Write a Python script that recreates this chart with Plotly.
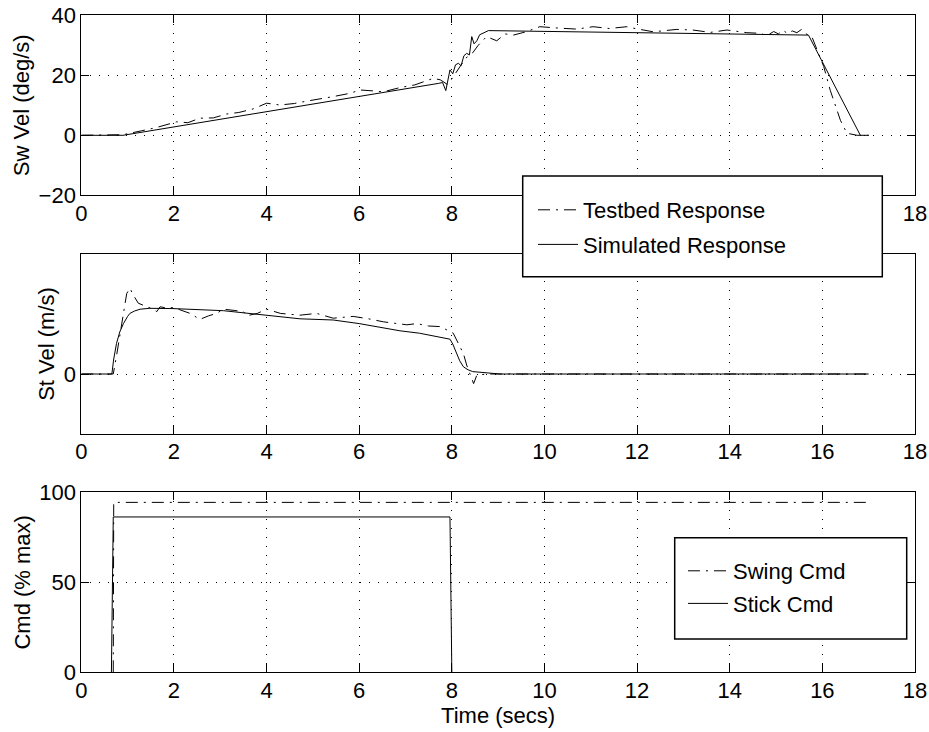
import plotly.graph_objects as go

# ---------------- data ----------------
# Top panel: swing velocity (deg/s)
sw_test_t = [0, 0.9, 1.3, 1.6, 2.06, 2.3, 2.56, 2.85, 3.14, 3.4, 3.71, 4.0, 4.29, 4.6, 4.87,
             5.15, 5.44, 5.8, 6.02, 6.3, 6.52, 6.88, 7.2, 7.6, 7.75, 7.9, 7.96, 8.05, 8.18, 8.3,
             8.45, 8.57, 8.75, 8.97, 9.15, 9.33, 9.6, 9.9, 10.34, 10.7, 11.05, 11.4, 11.78, 11.92,
             12.35, 12.6, 12.86, 13.2, 13.58, 13.94, 14.37, 14.66, 14.8, 14.95, 15.05, 15.15,
             15.25, 15.35, 15.45, 15.55, 15.65, 15.77, 16.03, 16.17, 16.39, 16.53, 16.75, 17.0]
sw_test_v = [0, 0.2, 1.5, 2.5, 4.5, 4.2, 5.7, 5.8, 7.1, 7.6, 8.8, 10.7, 10.1, 10.6, 11.4,
             12.1, 12.9, 14.0, 15.1, 14.8, 14.5, 15.9, 16.8, 19.0, 18.5, 17.0, 17.9, 20.0, 22.9, 25.7,
             27.5, 30.0, 32.9, 31.5, 33.8, 33.4, 34.5, 36.2, 35.7, 35.4, 36.2, 35.6, 36.2, 35.7,
             34.5, 35.0, 35.3, 35.1, 34.3, 35.1, 34.2, 34.0, 33.2, 34.6, 33.8, 35.0,
             33.9, 34.8, 34.2, 35.3, 33.8, 33.0, 22.9, 15.0, 5.0, 0.7, 0.0, 0.0]

sw_sim_t = [0, 0.9, 7.71, 7.80, 7.87, 7.92, 7.96, 8.02, 8.08, 8.14, 8.2, 8.26, 8.32, 8.38,
            8.43, 8.48, 8.54, 8.6, 8.79, 15.70, 16.82, 17.0]
sw_sim_v = [0, 0, 17.3, 17.6, 14.9, 19.5, 21.8, 20.5, 23.5, 24.0, 23.2, 26.5, 27.3, 26.8,
            32.9, 30.5, 31.5, 33.5, 34.9, 33.4, 0, 0]

# Middle panel: stick velocity (m/s)
st_test_t = [0, 0.69, 0.76, 0.84, 0.91, 0.98, 1.05, 1.12, 1.23, 1.41, 1.55, 1.63, 1.70, 1.85,
             2.02, 2.13, 2.35, 2.56, 2.75, 2.92, 3.07, 3.3, 3.5, 3.57, 3.8, 4.0, 4.3, 4.72, 5.08,
             5.44, 5.87, 6.2, 6.52, 7.03, 7.24, 7.5, 7.75, 8.03, 8.15, 8.25, 8.32, 8.39, 8.47,
             8.54, 8.76, 17.0]
st_test_v = [0, 0, 0.03, 0.068, 0.100, 0.134, 0.143, 0.132, 0.118, 0.113, 0.108, 0.104, 0.112,
             0.110, 0.111, 0.107, 0.101, 0.091, 0.097, 0.101, 0.108, 0.106, 0.104, 0.097, 0.101,
             0.108, 0.101, 0.098, 0.101, 0.093, 0.096, 0.092, 0.087, 0.082, 0.084, 0.080, 0.079,
             0.068, 0.050, 0.034, 0.015, 0.0, -0.016, -0.002, 0, 0]

st_sim_t = [0, 0.66, 0.7, 0.76, 0.83, 0.91, 1.0, 1.05, 1.15, 1.27, 1.48, 1.99, 3.07, 4.08,
            4.72, 5.44, 6.0, 6.88, 7.3, 7.96, 8.02, 8.1, 8.17, 8.25, 8.35, 8.45, 8.61, 8.8,
            9.04, 17.0]
st_sim_v = [0, 0, 0.025, 0.051, 0.070, 0.084, 0.096, 0.101, 0.105, 0.108, 0.1095, 0.109,
            0.1055, 0.098, 0.092, 0.090, 0.084, 0.072, 0.068, 0.058, 0.050, 0.035, 0.022,
            0.012, 0.007, 0.004, 0.003, 0.001, 0, 0]

# Bottom panel: commands (% max)
swing_t = [0.69, 0.70, 17.0]
swing_v = [0, 94.4, 94.4]
stick_t = [0.65, 0.69, 7.96, 8.0]
stick_v = [0, 86.3, 86.3, 0]

x_ticks = [0, 2, 4, 6, 8, 10, 12, 14, 16, 18]
x_labels = ["0", "2", "4", "6", "8", "10", "12", "14", "16", "18"]
# in the top panel, labels 10-16 sit under the legend box
x_labels_top = ["0", "2", "4", "6", "8", "", "", "", "", "18"]
sw_ticks = [-20, 0, 20, 40]
st_ticks = [0]
cmd_ticks = [0, 50, 100]

# ---------------- figure ----------------
W, H = 929, 732
FONT = "Liberation Sans, Arial, Helvetica, sans-serif"
FS = 22
DASHDOT = "12px,6px,2px,6px"

fig = go.Figure()

def line(t, v, xa, ya, dash, name, legend, show=True):
    fig.add_trace(go.Scatter(x=t, y=v, xaxis=xa, yaxis=ya, mode="lines",
                             line=dict(color="black", width=1, dash=dash),
                             name=name, legend=legend, showlegend=show,
                             legendgroup=name))

line(sw_test_t, sw_test_v, "x", "y", DASHDOT, "Testbed Response", "legend")
line(sw_sim_t, sw_sim_v, "x", "y", "solid", "Simulated Response", "legend")
line(st_test_t, st_test_v, "x2", "y2", DASHDOT, "Testbed Response", "legend", False)
line(st_sim_t, st_sim_v, "x2", "y2", "solid", "Simulated Response", "legend", False)
line(swing_t, swing_v, "x3", "y3", DASHDOT, "Swing Cmd", "legend2")
line(stick_t, stick_v, "x3", "y3", "solid", "Stick Cmd", "legend2")

def px_x(p):
    return p / W

def px_y(p):
    return 1 - p / H

xdom = [px_x(81.3), px_x(915)]
doms = {
    "1": [px_y(195.3), px_y(15.3)],
    "2": [px_y(434), px_y(254)],
    "3": [px_y(672.3), px_y(492.3)],
}

common_axis = dict(showline=True, linecolor="black", linewidth=1, mirror="ticks",
                   ticks="inside", ticklen=8, tickcolor="black", tickwidth=1,
                   showgrid=True, gridcolor="black", gridwidth=1, griddash="1px,8px",
                   zeroline=False, automargin=False,
                   tickfont=dict(family=FONT, size=FS, color="black"))

layout = dict(
    template="none",
    width=W, height=H, margin=dict(l=0, r=0, t=0, b=0, pad=0, autoexpand=False),
    paper_bgcolor="white", plot_bgcolor="white",
    font=dict(family=FONT, size=FS, color="black"),
)

for ax, yr, yt, title in [
        ("1", [-20, 40], sw_ticks, "Sw Vel (deg/s)"),
        ("2", [-0.1, 0.2], st_ticks, "St Vel (m/s)"),
        ("3", [0, 100], cmd_ticks, "Cmd (% max)")]:
    xk = "xaxis" if ax == "1" else f"xaxis{ax}"
    yk = "yaxis" if ax == "1" else f"yaxis{ax}"
    ya = "y" if ax == "1" else f"y{ax}"
    xa = "x" if ax == "1" else f"x{ax}"
    layout[xk] = dict(common_axis, domain=xdom, range=[0, 18], tickvals=x_ticks,
                      ticktext=x_labels_top if ax == "1" else x_labels,
                      anchor=ya, ticklabelstandoff=-2)
    layout[yk] = dict(common_axis, domain=doms[ax], range=yr, tickvals=yt, anchor=xa,
                      ticklabelstandoff=0,
                      title=dict(text=title, standoff=2,
                                 font=dict(family=FONT, size=FS, color="black")))
layout["xaxis3"]["title"] = dict(text="Time (secs)", standoff=0,
                                 font=dict(family=FONT, size=FS, color="black"))

# legend boxes
layout["shapes"] = [
    dict(type="rect", xref="paper", yref="paper", layer="above",
         x0=px_x(522.7), x1=px_x(882.3), y0=px_y(276.7), y1=px_y(176),
         line=dict(color="black", width=1.5), fillcolor="white"),
    dict(type="rect", xref="paper", yref="paper", layer="above",
         x0=px_x(674.7), x1=px_x(906.7), y0=px_y(639), y1=px_y(537.7),
         line=dict(color="black", width=1.5), fillcolor="white"),
]
layout["legend"] = dict(x=px_x(533), y=px_y(189), xanchor="left", yanchor="top",
                        bgcolor="rgba(0,0,0,0)", borderwidth=0, tracegroupgap=3,
                        itemwidth=40, font=dict(family=FONT, size=FS, color="black"))
layout["legend2"] = dict(x=px_x(683), y=px_y(550), xanchor="left", yanchor="top",
                         bgcolor="rgba(0,0,0,0)", borderwidth=0, tracegroupgap=1,
                         itemwidth=40, font=dict(family=FONT, size=FS, color="black"))

fig.update_layout(**layout)
fig.write_html("out.html")
